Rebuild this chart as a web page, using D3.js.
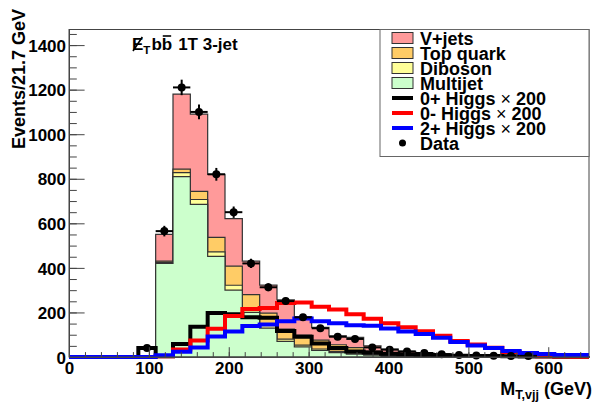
<!DOCTYPE html>
<html lang="en">
<head>
<meta charset="UTF-8">
<title>MT,vjj 1T 3-jet</title>
<script src="https://cdn.jsdelivr.net/npm/d3@7"></script>
<style>
  body { margin: 0; background: #fff; }
  text { font-family: "Liberation Sans", Arial, Helvetica, sans-serif; font-weight: bold; fill: #000; }
</style>
</head>
<body>
<svg id="mainsvg" width="595" height="407"></svg>
<script>
// 30 bins of 21.7 GeV, 0 - 651 GeV
const binWidth = 21.7;
const nBins = 30;

const multijet = [0, 0, 0, 0, 0, 420, 810, 685, 452, 300, 200, 130, 70, 45, 30, 20, 13, 8, 5, 4, 3, 2, 1.5, 1, 1, 0.5, 0.5, 0.3, 0.2, 0.1];
const diboson  = [0, 0, 0, 0, 0, 5, 18, 22, 20, 22, 15, 12, 10, 8, 6, 5, 4, 3, 2, 2, 1.5, 1, 1, 1, 0.5, 0.5, 0.5, 0.3, 0.2, 0.1];
const topQuark = [0, 0, 0, 0, 0, 5, 15, 36, 65, 86, 65, 55, 45, 45, 40, 30, 25, 15, 12, 8, 6, 4, 3, 2, 2, 1.5, 1, 1, 0.5, 0.3];
const vjets    = [0, 0, 0, 0, 0, 120, 337, 347, 283, 213, 150, 126, 131, 83, 57, 40, 46, 24, 16, 11, 8, 7, 5, 4, 3, 2.5, 2, 1.5, 1, 0.5];

const higgs0p = [0, 0, 0, 0, 40, 3, 58, 136, 197, 192, 178, 176, 117, 91, 61, 40, 25, 20, 15, 12, 10, 8, 6, 5, 4, 3, 2, 2, 1, 1];
const higgs0m = [0, 0, 0, 0, 0, 3, 34, 74, 127, 184, 215, 220, 242, 245, 226, 213, 192, 172, 152, 134, 116, 95, 72, 56, 42, 22, 10, 3, 2, 1];
const higgs2p = [0, 0, 0, 0, 0, 8, 24, 43, 92, 115, 139, 146, 160, 173, 160, 152, 143, 140, 128, 115, 103, 86, 67, 52, 40, 27, 18, 13, 9, 9];

const dataCounts = [0, 0, 0, 0, 40, 565, 1210, 1100, 820, 650, 420, 313, 251, 178, 129, 91, 81, 43, 33, 25, 18, 12, 9, 7, 6, 5, 5, 0, 0, 0];

const yTicks = [0, 200, 400, 600, 800, 1000, 1200, 1400];
const xTicks = [0, 100, 200, 300, 400, 500, 600];

const legendItems = [
  {label: "V+jets", type: "box", color: "#ff9a9a"},
  {label: "Top quark", type: "box", color: "#ffcc66"},
  {label: "Diboson", type: "box", color: "#ffff99"},
  {label: "Multijet", type: "box", color: "#ccffcc"},
  {label: "0+ Higgs", type: "line", color: "#000000", times: "200"},
  {label: "0- Higgs", type: "line", color: "#ff0000", times: "200"},
  {label: "2+ Higgs", type: "line", color: "#0000ff", times: "200"},
  {label: "Data", type: "marker", color: "#000000"}
];

const svg = d3.select("#mainsvg");
const frame = {left: 69, right: 589, top: 29.5, bottom: 357};
const xMax = binWidth * nBins;

const x = d3.scaleLinear().domain([0, xMax]).range([frame.left, frame.right]);
const y = d3.scaleLinear().domain([0, 1470]).range([frame.bottom, frame.top]);

function stepData(vals) {
  const pts = vals.map((v, i) => ({e: i * binWidth, v: v}));
  pts.push({e: xMax, v: vals[vals.length - 1]});
  return pts;
}

// stacked backgrounds, drawn biggest first (like THStack)
const layers = [multijet, diboson, topQuark, vjets];
const layerColors = ["#ccffcc", "#ffff99", "#ffcc66", "#ff9a9a"];
const cum = [];
let run = new Array(nBins).fill(0);
layers.forEach(l => {
  run = run.map((r, i) => r + l[i]);
  cum.push(run.slice());
});

const area = d3.area()
  .x(d => x(d.e))
  .y0(y(0))
  .y1(d => y(d.v))
  .curve(d3.curveStepAfter);

const stackG = svg.append("g");
for (let k = cum.length - 1; k >= 0; k--) {
  stackG.append("path")
    .attr("d", area(stepData(cum[k])))
    .attr("fill", layerColors[k])
    .attr("stroke", "#333")
    .attr("stroke-width", 1.2);
}

// signal curves
const line = d3.line()
  .x(d => x(d.e))
  .y(d => y(d.v))
  .curve(d3.curveStepAfter);

[[higgs0p, "#000"], [higgs0m, "#ff0000"], [higgs2p, "#0000ff"]].forEach(([vals, col]) => {
  svg.append("path")
    .attr("d", line(stepData(vals)))
    .attr("fill", "none")
    .attr("stroke", col)
    .attr("stroke-width", 4);
});

// data points
const pts = dataCounts.map((v, i) => ({i: i, v: v})).filter(d => d.v > 0);
const dataG = svg.append("g");
dataG.selectAll(".xerr").data(pts).join("line")
  .attr("x1", d => x(d.i * binWidth)).attr("x2", d => x((d.i + 1) * binWidth))
  .attr("y1", d => y(d.v)).attr("y2", d => y(d.v))
  .attr("stroke", "#000").attr("stroke-width", 2);
dataG.selectAll(".yerr").data(pts).join("line")
  .attr("x1", d => x((d.i + 0.5) * binWidth)).attr("x2", d => x((d.i + 0.5) * binWidth))
  .attr("y1", d => y(d.v + Math.sqrt(d.v))).attr("y2", d => y(Math.max(0, d.v - Math.sqrt(d.v))))
  .attr("stroke", "#000").attr("stroke-width", 2);
dataG.selectAll("circle").data(pts).join("circle")
  .attr("cx", d => x((d.i + 0.5) * binWidth))
  .attr("cy", d => y(d.v))
  .attr("r", 4)
  .attr("fill", "#000");

// axes (ticks inside the frame, ROOT style)
const axisColor = "#444";
const yMinor = d3.range(0, 1470, 50);
const xMinor = d3.range(0, xMax, 20);

svg.append("g")
  .attr("transform", `translate(${frame.left},0)`)
  .call(d3.axisLeft(y).tickValues(yMinor).tickSize(-7.8).tickSizeOuter(0).tickFormat(""));
svg.append("g")
  .attr("transform", `translate(${frame.left},0)`)
  .call(d3.axisLeft(y).tickValues(yTicks).tickSize(-15.6).tickSizeOuter(0).tickPadding(3).tickFormat(d3.format("d")))
  .call(g => g.selectAll("text").attr("font-size", 17).attr("dy", "0.36em"));
svg.append("g")
  .attr("transform", `translate(0,${frame.bottom})`)
  .call(d3.axisBottom(x).tickValues(xMinor).tickSize(-4.9).tickSizeOuter(0).tickFormat(""));
svg.append("g")
  .attr("transform", `translate(0,${frame.bottom})`)
  .call(d3.axisBottom(x).tickValues(xTicks).tickSize(-9.8).tickSizeOuter(0).tickPadding(4.5).tickFormat(d3.format("d")))
  .call(g => g.selectAll("text").attr("font-size", 17));
svg.selectAll(".domain, .tick line").attr("stroke", axisColor);
svg.selectAll(".tick text").attr("fill", "#000");

svg.append("rect")
  .attr("x", frame.left).attr("y", frame.top)
  .attr("width", frame.right - frame.left).attr("height", frame.bottom - frame.top)
  .attr("fill", "none").attr("stroke", axisColor).attr("stroke-width", 1);

// axis titles
svg.append("text")
  .attr("transform", "translate(25,9) rotate(-90)")
  .attr("text-anchor", "end")
  .attr("font-size", 18)
  .text("Events/21.7 GeV");

const xt = svg.append("text")
  .attr("x", 592).attr("y", 395)
  .attr("text-anchor", "end")
  .attr("font-size", 18);
xt.append("tspan").text("M");
xt.append("tspan").attr("font-size", 12.5).attr("dy", 4).text("T,vjj");
xt.append("tspan").attr("dy", -4).text(" (GeV)");

// title: missing ET b bbar 1T 3-jet
const tg = svg.append("g");
let cx = 132;
const base = 50;
function piece(str, size, dy) {
  const t = tg.append("text").attr("x", cx).attr("y", base + (dy || 0)).attr("font-size", size).text(str);
  const w = t.node().getComputedTextLength();
  const x0 = cx;
  cx += w;
  return [x0, w];
}
const [ex, ew] = piece("E", 17);
tg.append("line")
  .attr("x1", ex + 1).attr("y1", base + 1)
  .attr("x2", ex + ew - 1).attr("y2", base - 13)
  .attr("stroke", "#000").attr("stroke-width", 1.6);
piece("T", 11.5, 3.5);
cx += 1;
piece("b", 17);
const [bx, bw] = piece("b", 17);
tg.append("line")
  .attr("x1", bx + 1).attr("x2", bx + bw - 1)
  .attr("y1", base - 14).attr("y2", base - 14)
  .attr("stroke", "#000").attr("stroke-width", 1.6);
cx += 6;
piece("1T 3-jet", 17);

// legend
const leg = svg.append("g");
leg.append("rect")
  .attr("x", 380).attr("y", frame.top)
  .attr("width", frame.right - 380).attr("height", 127)
  .attr("fill", "#fff").attr("stroke", "#666").attr("stroke-width", 1);

legendItems.forEach((d, i) => {
  const cy = 38 + i * 15;
  if (d.type === "box") {
    leg.append("rect")
      .attr("x", 392).attr("y", cy - 5.5).attr("width", 21).attr("height", 11)
      .attr("fill", d.color).attr("stroke", "#333").attr("stroke-width", 1);
  } else if (d.type === "line") {
    leg.append("line")
      .attr("x1", 392).attr("x2", 413).attr("y1", cy).attr("y2", cy)
      .attr("stroke", d.color).attr("stroke-width", 4);
  } else {
    leg.append("circle").attr("cx", 402.5).attr("cy", cy).attr("r", 3.5).attr("fill", d.color);
  }
  const t = leg.append("text")
    .attr("x", 420).attr("y", cy + 6.5)
    .attr("font-size", 18);
  t.append("tspan").text(d.label);
  if (d.times) {
    t.append("tspan").attr("font-weight", "normal").text(" \u00d7 ");
    t.append("tspan").text(d.times);
  }
});
</script>
</body>
</html>
